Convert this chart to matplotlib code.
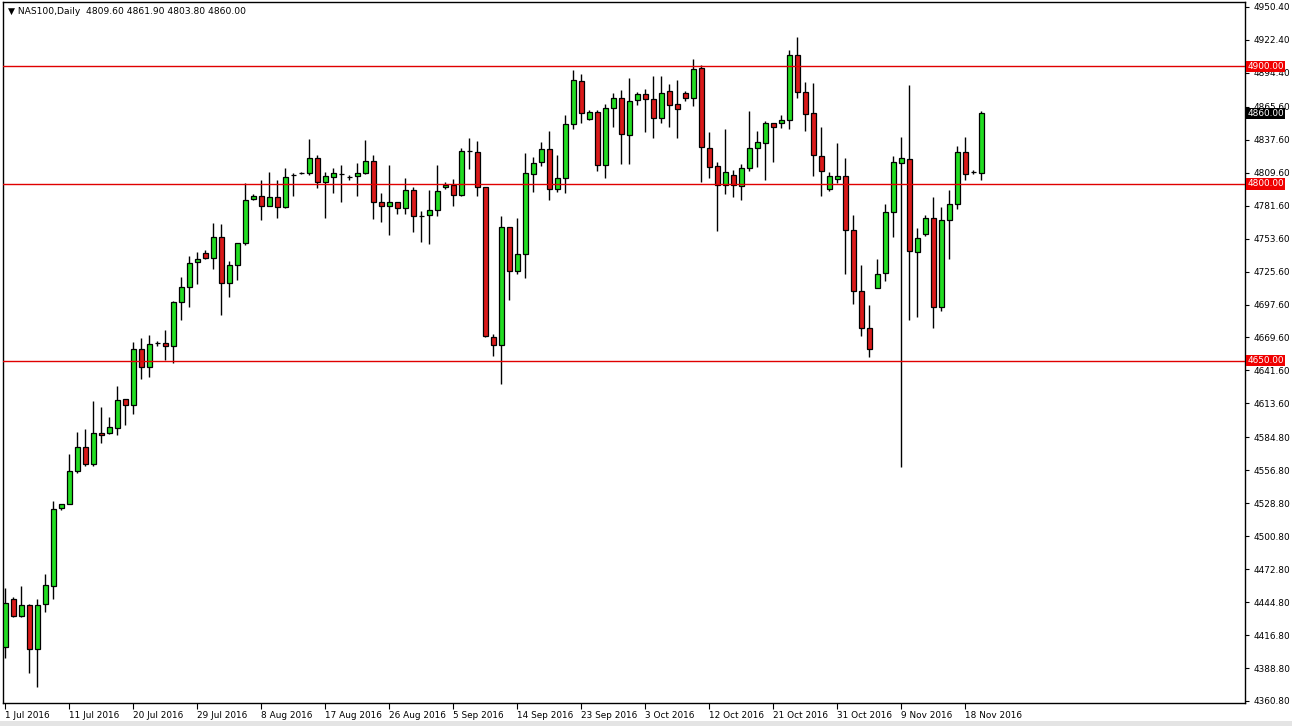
import matplotlib
matplotlib.use("Agg")
import matplotlib.pyplot as plt
from matplotlib.transforms import blended_transform_factory
from matplotlib.patches import Rectangle

# ---- data (NAS100 Daily, 1 Jul 2016 .. 22 Nov 2016) ----
opens = [4406.7, 4447.4, 4433.0, 4442.3, 4405.0, 4443.2, 4458.5, 4524.8, 4528.2, 4556.2,
         4576.6, 4562.1, 4588.5, 4588.5, 4592.7, 4617.4, 4612.3, 4659.8, 4644.5, 4664.9,
         4664.9, 4662.4, 4699.8, 4712.5, 4733.7, 4741.4, 4737.1, 4755.0, 4715.9, 4731.2,
         4749.9, 4787.3, 4789.8, 4781.3, 4789.0, 4780.5, 4807.7, 4809.4, 4809.4, 4822.1,
         4801.7, 4806.0, 4808.5, 4806.0, 4806.8, 4809.4, 4819.6, 4784.7, 4781.3, 4784.7,
         4779.6, 4794.9, 4772.8, 4773.7, 4777.9, 4797.5, 4799.2, 4790.7, 4828.1, 4827.2,
         4797.5, 4670.0, 4663.2, 4763.5, 4726.1, 4740.5, 4808.5, 4818.7, 4829.8, 4795.8,
         4805.1, 4851.0, 4887.5, 4855.2, 4861.2, 4816.2, 4864.6, 4873.1, 4841.6, 4871.4,
         4876.5, 4872.2, 4856.1, 4879.0, 4868.0, 4877.3, 4873.1, 4898.6, 4830.6, 4815.3,
         4799.2, 4807.7, 4798.3, 4813.6, 4830.6, 4834.9, 4851.8, 4851.8, 4854.4, 4909.6,
         4878.2, 4860.3, 4823.8, 4795.8, 4804.3, 4806.8, 4760.9, 4709.1, 4677.7, 4711.7,
         4724.4, 4776.2, 4817.9, 4821.3, 4742.2, 4757.5, 4771.1, 4695.5, 4769.4, 4783.0,
         4827.2, 4810.2, 4809.6]
highs = [4456.8, 4449.1, 4458.5, 4443.0, 4447.4, 4468.7, 4530.7, 4528.2, 4570.6, 4589.3,
         4591.9, 4615.7, 4610.6, 4602.1, 4628.4, 4617.4, 4665.8, 4669.2, 4671.7, 4666.6,
         4676.0, 4700.6, 4721.0, 4738.8, 4742.2, 4743.9, 4766.9, 4766.0, 4734.6, 4749.9,
         4800.9, 4791.5, 4803.4, 4810.2, 4803.4, 4813.6, 4809.4, 4810.2, 4838.3, 4824.7,
         4810.2, 4813.6, 4816.2, 4807.7, 4817.9, 4837.4, 4824.7, 4792.4, 4816.2, 4784.7,
         4805.1, 4797.5, 4777.1, 4794.9, 4816.2, 4801.7, 4804.3, 4830.6, 4839.1, 4836.6,
         4797.5, 4672.6, 4772.8, 4763.5, 4771.1, 4826.4, 4823.0, 4835.7, 4845.0, 4824.7,
         4858.6, 4896.9, 4893.5, 4862.9, 4862.9, 4868.0, 4877.3, 4879.9, 4890.1, 4878.2,
         4880.7, 4891.8, 4891.8, 4885.0, 4888.4, 4879.0, 4906.2, 4901.1, 4844.2, 4818.7,
         4846.7, 4811.9, 4817.0, 4862.0, 4845.0, 4853.5, 4851.8, 4858.6, 4913.9, 4924.9,
         4886.7, 4885.8, 4848.4, 4810.2, 4834.9, 4822.1, 4773.7, 4731.2, 4697.2, 4736.3,
         4783.0, 4823.8, 4839.9, 4884.1, 4762.6, 4773.7, 4789.0, 4780.5, 4794.9, 4832.3,
         4839.9, 4811.9, 4861.9]
lows = [4397.3, 4432.2, 4432.0, 4384.6, 4372.7, 4436.4, 4447.4, 4523.1, 4528.2, 4554.5,
        4560.4, 4560.4, 4580.0, 4587.6, 4586.8, 4595.3, 4604.6, 4634.3, 4636.0, 4662.4,
        4650.5, 4647.9, 4684.5, 4695.5, 4715.1, 4736.3, 4727.8, 4688.7, 4704.0, 4718.5,
        4748.2, 4786.4, 4769.4, 4781.3, 4771.1, 4779.6, 4789.8, 4808.5, 4807.7, 4796.6,
        4771.1, 4792.4, 4784.7, 4803.4, 4789.8, 4808.5, 4770.3, 4767.7, 4756.7, 4774.5,
        4774.5, 4759.2, 4750.7, 4749.0, 4772.8, 4795.8, 4781.3, 4789.8, 4812.8, 4789.8,
        4670.0, 4653.9, 4630.1, 4701.5, 4723.6, 4720.2, 4793.2, 4815.3, 4786.4, 4793.2,
        4792.4, 4846.7, 4851.8, 4854.4, 4811.1, 4805.1, 4848.4, 4817.0, 4817.0, 4867.1,
        4844.2, 4839.1, 4851.8, 4848.4, 4839.1, 4870.5, 4866.3, 4801.7, 4805.1, 4760.1,
        4791.5, 4789.0, 4786.4, 4811.1, 4814.5, 4803.4, 4818.7, 4847.6, 4846.7, 4873.1,
        4845.0, 4806.8, 4789.8, 4794.1, 4800.9, 4723.6, 4698.1, 4670.9, 4653.0, 4711.7,
        4717.6, 4755.0, 4559.6, 4684.5, 4687.0, 4755.8, 4677.7, 4692.1, 4736.3, 4778.8,
        4803.4, 4808.5, 4803.8]
closes = [4444.0, 4433.0, 4442.3, 4405.0, 4442.3, 4459.3, 4523.9, 4528.2, 4556.2, 4576.6,
          4562.1, 4588.5, 4586.8, 4593.6, 4616.5, 4612.3, 4659.8, 4644.5, 4664.1, 4664.9,
          4662.4, 4699.8, 4712.5, 4732.9, 4736.3, 4737.1, 4755.0, 4715.9, 4731.2, 4749.9,
          4786.4, 4789.8, 4781.3, 4789.0, 4780.5, 4806.0, 4807.7, 4809.4, 4822.1, 4801.7,
          4806.8, 4809.4, 4808.5, 4806.0, 4809.4, 4819.6, 4784.7, 4781.3, 4784.7, 4779.6,
          4794.9, 4772.8, 4772.8, 4777.9, 4794.1, 4799.2, 4790.7, 4828.1, 4828.1, 4797.5,
          4670.9, 4663.2, 4763.5, 4726.1, 4740.5, 4809.4, 4817.9, 4829.8, 4795.8, 4805.1,
          4851.0, 4888.4, 4860.3, 4861.2, 4816.2, 4864.6, 4873.1, 4842.5, 4870.5, 4876.5,
          4872.2, 4856.1, 4877.3, 4867.1, 4863.7, 4873.1, 4897.7, 4831.5, 4814.5, 4799.2,
          4810.2, 4799.2, 4813.6, 4830.6, 4835.7, 4851.8, 4848.4, 4854.4, 4909.6, 4878.2,
          4859.5, 4824.7, 4811.1, 4806.8, 4806.8, 4760.9, 4709.1, 4677.7, 4659.8, 4723.6,
          4776.2, 4818.7, 4822.1, 4743.1, 4754.1, 4771.1, 4695.5, 4769.4, 4783.0, 4827.2,
          4808.5, 4810.2, 4860.0]

date_labels = ["1 Jul 2016", "11 Jul 2016", "20 Jul 2016", "29 Jul 2016", "8 Aug 2016",
               "17 Aug 2016", "26 Aug 2016", "5 Sep 2016", "14 Sep 2016", "23 Sep 2016",
               "3 Oct 2016", "12 Oct 2016", "21 Oct 2016", "31 Oct 2016", "9 Nov 2016",
               "18 Nov 2016"]
date_label_bars = [0, 8, 16, 24, 32, 40, 48, 56, 64, 72, 80, 88, 96, 104, 112, 120]

price_ticks = [4950.40, 4922.40, 4894.40, 4865.60, 4837.60, 4809.60, 4781.60, 4753.60,
               4725.60, 4697.60, 4669.60, 4641.60, 4613.60, 4584.80, 4556.80, 4528.80,
               4500.80, 4472.80, 4444.80, 4416.80, 4388.80, 4360.80]
levels = [4900.0, 4800.0, 4650.0]
last_price = 4860.00
header = "NAS100,Daily  4809.60 4861.90 4803.80 4860.00"

# ---- figure ----
W, H = 1292, 726
fig = plt.figure(figsize=(W / 100, H / 100), dpi=100, facecolor="white")
ax = fig.add_axes([3 / W, 23 / H, 1242 / W, 701 / H])
ax.set_facecolor("white")

bull = "#22DD22"
bear = "#DA1A1A"
n = len(opens)
xs = list(range(n))

ax.vlines(xs, lows, highs, color="black", linewidth=1.0, zorder=2)
bottoms = [min(o, c) for o, c in zip(opens, closes)]
heights = [abs(c - o) for o, c in zip(opens, closes)]
colors = [bull if c > o else (bear if c < o else "black") for o, c in zip(opens, closes)]
ax.bar(xs, heights, bottom=bottoms, width=0.58, color=colors, edgecolor="black",
       linewidth=0.9, zorder=3)

for lv in levels:
    ax.axhline(lv, color="#E00000", linewidth=1.0, zorder=4)

ax.set_xlim(-0.29, 154.96)
ax.set_ylim(4359.1, 4954.6)

# y axis on the right
ax.yaxis.tick_right()
ax.set_yticks(price_ticks)
ax.set_yticklabels([f"{p:.2f}" for p in price_ticks])
ax.tick_params(axis="y", direction="out", length=3, width=0.8, pad=3,
               labelsize=6.4, colors="black")
ax.tick_params(axis="x", direction="out", length=4, width=0.8, pad=2,
               labelsize=6.4, colors="black")
ax.set_xticks(date_label_bars)
ax.set_xticklabels(date_labels, ha="left")
for lbl in ax.get_xticklabels():
    lbl.set_x(lbl.get_position()[0])

for sp in ax.spines.values():
    sp.set_color("black")
    sp.set_linewidth(1.0)

trans = blended_transform_factory(ax.transAxes, ax.transData)
for lv in levels:
    ax.text(1.0018, lv, f"{lv:.2f}", transform=trans, ha="left", va="center",
            fontsize=6.4, color="white", zorder=6, clip_on=False,
            bbox=dict(boxstyle="square,pad=0.12", fc="#F00000", ec="none"))
ax.text(1.0018, last_price, f"{last_price:.2f}", transform=trans, ha="left", va="center",
        fontsize=6.4, color="white", zorder=6, clip_on=False,
        bbox=dict(boxstyle="square,pad=0.12", fc="black", ec="none"))

fig.text(8 / W, 1 - 12 / H, "\u25BC " + header, ha="left", va="center",
         fontsize=6.6, color="black")

fig.add_artist(Rectangle((0, 0), 1, 5 / H, transform=fig.transFigure,
                         facecolor="#E4E4E4", edgecolor="none"))

fig.savefig("out.png", dpi=100, facecolor="white")
